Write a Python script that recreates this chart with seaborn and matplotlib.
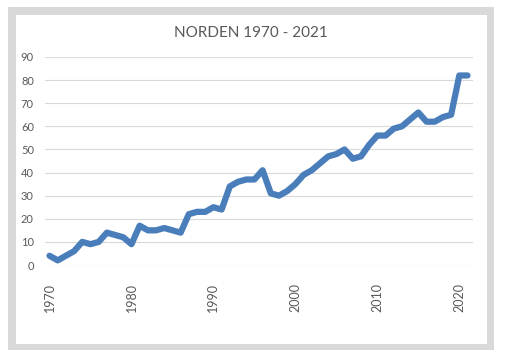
import matplotlib
matplotlib.use("Agg")
import matplotlib.pyplot as plt
from matplotlib.patches import Rectangle
import seaborn as sns
import pandas as pd

years = list(range(1970, 2022))
values = [4, 2, 4, 6, 10, 9, 10, 14, 13, 12,
          9, 17, 15, 15, 16, 15, 14, 22, 23, 23,
          25, 24, 34, 36, 37, 37, 41, 31, 30, 32,
          35, 39, 41, 44, 47, 48, 50, 46, 47, 52,
          56, 56, 59, 60, 63, 66, 62, 62, 64, 65,
          82, 82]
xticks = [1970, 1980, 1990, 2000, 2010, 2020]
yticks = [0, 10, 20, 30, 40, 50, 60, 70, 80, 90]
title = "NORDEN 1970 - 2021"

df = pd.DataFrame({"year": years, "value": values})

sns.set_theme(style="white")
plt.rcParams['font.family'] = ['Lato', 'DejaVu Sans']

W, H = 505, 359
fig = plt.figure(figsize=(W / 100, H / 100), dpi=100)
fig.patch.set_facecolor("white")

# background frame axes
bg = fig.add_axes([0, 0, 1, 1], zorder=-5)
bg.set_xlim(0, W)
bg.set_ylim(H, 0)
bg.axis("off")
bg.add_patch(Rectangle((8, 7), 494 - 8, 350 - 7, facecolor="#d9d9d9", edgecolor="none"))
bg.add_patch(Rectangle((16, 15), 487 - 16, 344 - 15, facecolor="white", edgecolor="none"))

ax = fig.add_axes([45 / W, 1 - 265 / H, (473 - 45) / W, (265 - 57) / H], zorder=1)
ax.set_facecolor("none")
sns.lineplot(data=df, x="year", y="value", ax=ax, color="#4a7ebb",
             linewidth=4.5, solid_joinstyle="round", solid_capstyle="round")

ax.set_xlim(1969.45, 2021.67)
ax.set_ylim(0, 90)
ax.set_xticks(xticks)
ax.set_xticklabels([str(t) for t in xticks], rotation=90)
ax.set_yticks(yticks)
ax.set_xlabel("")
ax.set_ylabel("")
ax.grid(axis="y", color="#d9d9d9", linewidth=0.8)
ax.set_axisbelow(True)
for s in ax.spines.values():
    s.set_visible(False)
ax.tick_params(axis="x", length=0, pad=13, labelsize=9, labelcolor="#595959")
ax.tick_params(axis="y", length=0, pad=8, labelsize=8, labelcolor="#595959")
for lab in ax.get_xticklabels():
    lab.set_verticalalignment("top")

fig.text(251 / W, 1 - 33 / H, title, ha="center", va="center",
         fontsize=11, color="#595959")

fig.savefig("out.png", dpi=100)
